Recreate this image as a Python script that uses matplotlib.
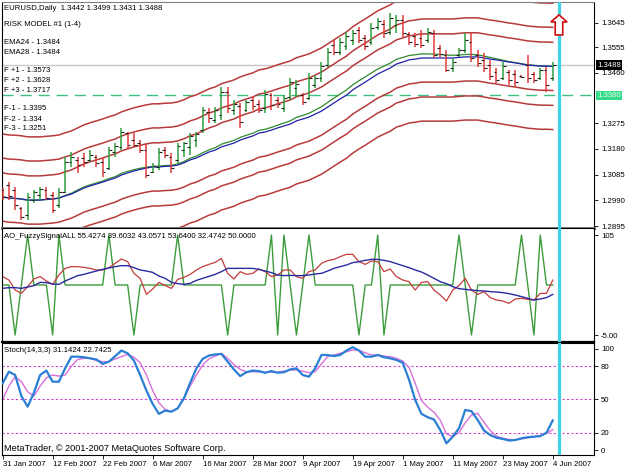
import matplotlib.pyplot as plt
from matplotlib.patches import FancyArrow
import numpy as np

plt.rcParams['font.family'] = ['Liberation Sans', 'DejaVu Sans']

# ---- data ----
date_labels = ["31 Jan 2007", "12 Feb 2007", "22 Feb 2007", "6 Mar 2007", "16 Mar 2007",
               "28 Mar 2007", "9 Apr 2007", "19 Apr 2007", "1 May 2007", "11 May 2007",
               "23 May 2007", "4 Jun 2007"]

opens = [1.3028, 1.3046, 1.3028, 1.2961, 1.2936, 1.2991, 1.3009, 1.3028, 1.3009, 1.2973,
         1.3021, 1.3131, 1.3139, 1.3146, 1.3139, 1.3150, 1.3131, 1.3109, 1.3168, 1.3187,
         1.3238, 1.3212, 1.3201, 1.3175, 1.3094, 1.3113, 1.3175, 1.3150, 1.3139, 1.3175,
         1.3187, 1.3212, 1.3249, 1.3316, 1.3286, 1.3305, 1.3390, 1.3323, 1.3338, 1.3323,
         1.3360, 1.3345, 1.3330, 1.3378, 1.3360, 1.3330, 1.3371, 1.3404, 1.3378, 1.3367,
         1.3415, 1.3441, 1.3489, 1.3563, 1.3537, 1.3559, 1.3581, 1.3618, 1.3589, 1.3574,
         1.3629, 1.3640, 1.3611, 1.3637, 1.3655, 1.3604, 1.3596, 1.3589, 1.3581, 1.3607,
         1.3552, 1.3526, 1.3478, 1.3526, 1.3544, 1.3574, 1.3526, 1.3508, 1.3489, 1.3463,
         1.3441, 1.3463, 1.3456, 1.3449, 1.3489, 1.3456, 1.3441, 1.3471, 1.3442]
highs = [1.3035, 1.3057, 1.3039, 1.2965, 1.3017, 1.3028, 1.3039, 1.3039, 1.3021, 1.3035,
         1.3150, 1.3168, 1.3150, 1.3164, 1.3175, 1.3157, 1.3146, 1.3187, 1.3201, 1.3257,
         1.3242, 1.3238, 1.3212, 1.3201, 1.3128, 1.3183, 1.3187, 1.3164, 1.3201, 1.3205,
         1.3238, 1.3242, 1.3334, 1.3330, 1.3334, 1.3408, 1.3408, 1.3360, 1.3349, 1.3360,
         1.3371, 1.3360, 1.3397, 1.3386, 1.3371, 1.3378, 1.3441, 1.3434, 1.3386, 1.3460,
         1.3452, 1.3500, 1.3552, 1.3581, 1.3589, 1.3611, 1.3618, 1.3629, 1.3600, 1.3644,
         1.3663, 1.3655, 1.3681, 1.3674, 1.3674, 1.3611, 1.3607, 1.3618, 1.3626, 1.3618,
         1.3563, 1.3544, 1.3515, 1.3552, 1.3607, 1.3607, 1.3544, 1.3533, 1.3508, 1.3478,
         1.3500, 1.3471, 1.3471, 1.3452, 1.3526, 1.3463, 1.3478, 1.3482, 1.3499]
lows = [1.2991, 1.2991, 1.2954, 1.2917, 1.2917, 1.2980, 1.2991, 1.2991, 1.2943, 1.2961,
        1.3017, 1.3113, 1.3091, 1.3113, 1.3131, 1.3113, 1.3076, 1.3102, 1.3150, 1.3175,
        1.3183, 1.3187, 1.3164, 1.3072, 1.3091, 1.3102, 1.3146, 1.3091, 1.3128, 1.3150,
        1.3157, 1.3187, 1.3238, 1.3275, 1.3275, 1.3286, 1.3312, 1.3305, 1.3257, 1.3316,
        1.3323, 1.3312, 1.3312, 1.3323, 1.3330, 1.3316, 1.3360, 1.3371, 1.3342, 1.3360,
        1.3404, 1.3426, 1.3482, 1.3526, 1.3526, 1.3544, 1.3563, 1.3570, 1.3544, 1.3563,
        1.3618, 1.3589, 1.3600, 1.3607, 1.3592, 1.3563, 1.3556, 1.3552, 1.3570, 1.3515,
        1.3519, 1.3463, 1.3463, 1.3519, 1.3533, 1.3500, 1.3482, 1.3463, 1.3434, 1.3423,
        1.3434, 1.3415, 1.3408, 1.3441, 1.3423, 1.3423, 1.3434, 1.3390, 1.3431]
closes = [1.3002, 1.3006, 1.2973, 1.2928, 1.3002, 1.3021, 1.3032, 1.2998, 1.2954, 1.3021,
          1.3131, 1.3150, 1.3120, 1.3131, 1.3157, 1.3128, 1.3094, 1.3175, 1.3190, 1.3242,
          1.3194, 1.3194, 1.3175, 1.3083, 1.3116, 1.3168, 1.3157, 1.3109, 1.3190, 1.3201,
          1.3227, 1.3235, 1.3323, 1.3294, 1.3323, 1.3390, 1.3330, 1.3345, 1.3279, 1.3353,
          1.3338, 1.3323, 1.3382, 1.3342, 1.3345, 1.3367, 1.3426, 1.3419, 1.3353, 1.3441,
          1.3441, 1.3485, 1.3537, 1.3537, 1.3574, 1.3596, 1.3607, 1.3581, 1.3559, 1.3626,
          1.3652, 1.3607, 1.3663, 1.3655, 1.3607, 1.3574, 1.3567, 1.3563, 1.3611, 1.3526,
          1.3530, 1.3471, 1.3500, 1.3544, 1.3581, 1.3515, 1.3497, 1.3478, 1.3449, 1.3434,
          1.3485, 1.3434, 1.3426, 1.3445, 1.3441, 1.3434, 1.3471, 1.3415, 1.3488]

ema24 = [1.3003, 1.2999, 1.2997, 1.2994, 1.2990, 1.2990, 1.2991, 1.2993, 1.2994, 1.2998,
         1.3008, 1.3016, 1.3028, 1.3039, 1.3047, 1.3054, 1.3061, 1.3070, 1.3077, 1.3089,
         1.3097, 1.3103, 1.3108, 1.3112, 1.3115, 1.3116, 1.3118, 1.3119, 1.3124, 1.3133,
         1.3145, 1.3153, 1.3165, 1.3176, 1.3184, 1.3197, 1.3204, 1.3211, 1.3222, 1.3230,
         1.3237, 1.3248, 1.3252, 1.3259, 1.3267, 1.3275, 1.3283, 1.3296, 1.3303, 1.3311,
         1.3323, 1.3335, 1.3351, 1.3367, 1.3382, 1.3397, 1.3416, 1.3431, 1.3445, 1.3460,
         1.3474, 1.3485, 1.3496, 1.3510, 1.3517, 1.3524, 1.3527, 1.3530, 1.3530, 1.3529,
         1.3528, 1.3526, 1.3525, 1.3526, 1.3528, 1.3528, 1.3527, 1.3522, 1.3517, 1.3512,
         1.3507, 1.3502, 1.3498, 1.3494, 1.3490, 1.3488, 1.3486, 1.3485, 1.3484]
ema28 = [1.3002, 1.2998, 1.2997, 1.2995, 1.2991, 1.2991, 1.2991, 1.2993, 1.2995, 1.2998,
         1.3006, 1.3013, 1.3024, 1.3035, 1.3043, 1.3050, 1.3057, 1.3065, 1.3072, 1.3083,
         1.3091, 1.3098, 1.3104, 1.3109, 1.3113, 1.3113, 1.3115, 1.3116, 1.3120, 1.3128,
         1.3139, 1.3146, 1.3157, 1.3168, 1.3175, 1.3187, 1.3194, 1.3201, 1.3212, 1.3220,
         1.3227, 1.3238, 1.3242, 1.3249, 1.3257, 1.3264, 1.3271, 1.3283, 1.3290, 1.3297,
         1.3308, 1.3319, 1.3334, 1.3349, 1.3364, 1.3378, 1.3397, 1.3412, 1.3426, 1.3441,
         1.3456, 1.3467, 1.3478, 1.3493, 1.3500, 1.3508, 1.3511, 1.3515, 1.3515, 1.3515,
         1.3515, 1.3515, 1.3515, 1.3517, 1.3519, 1.3519, 1.3519, 1.3515, 1.3511, 1.3508,
         1.3504, 1.3500, 1.3497, 1.3493, 1.3489, 1.3487, 1.3485, 1.3485, 1.3484]
band_offsets = [0.0089, 0.0144, 0.0233]   # F1, F2, F3 distance from EMA28

ao_signal = [50, 50, -5, 50, 105, 50, 50, 50, -5, 105,
             50, 50, 50, 50, 50, 50, 50, 105, 50, 50,
             50, -5, 50, 50, 50, 50, 50, 50, 105, 50,
             50, 50, 50, 50, 50, 50, -5, 50, 50, 50,
             50, 50, 50, 105, -5, 105, 50, -5, 50, 105,
             50, 50, 50, 50, 50, 50, 50, -5, 50, 50,
             105, -5, 50, 50, 50, 50, 50, 50, 50, 50,
             50, 50, 50, 105, 50, -5, 50, 50, 50, 50,
             50, 50, 50, 105, 50, -5, 105, 50, 50]
ao_red = [59.2, 55.5, 44.5, 40.8, 48.2, 56.6, 59.2, 54.4, 50.7, 61.0,
          68.3, 70.2, 70.2, 69.4, 68.3, 66.5, 66.5, 69.1, 73.8, 78.6,
          75.7, 62.8, 57.3, 39.7, 45.6, 52.9, 49.3, 46.3, 56.2, 58.4,
          61.7, 66.5, 70.2, 72.7, 74.9, 79.3, 62.8, 56.6, 64.7, 61.7,
          62.8, 67.6, 64.7, 59.2, 61.0, 66.5, 66.5, 59.2, 57.3, 64.7,
          66.5, 73.8, 76.8, 78.2, 81.2, 83.7, 83.7, 75.7, 72.7, 76.4,
          75.7, 64.7, 67.6, 59.2, 55.5, 53.7, 44.5, 52.9, 53.7, 44.5,
          39.0, 32.4, 44.5, 49.3, 57.3, 44.5, 39.7, 42.7, 36.1, 33.5,
          32.4, 29.8, 34.6, 35.3, 34.2, 33.5, 40.8, 40.8, 55.4274]
ao_blue = [46.3, 47.1, 47.1, 46.3, 47.8, 49.3, 52.9, 52.6, 51.1, 50.7,
           54.4, 57.3, 60.3, 61.7, 63.6, 65.4, 67.2, 68.7, 70.2, 71.3,
           71.3, 69.1, 66.5, 65.4, 63.9, 59.9, 57.3, 52.9, 51.5, 50.7,
           51.8, 55.1, 57.3, 59.5, 61.7, 64.7, 68.3, 68.3, 68.3, 68.3,
           68.3, 67.2, 65.4, 63.6, 61.0, 60.3, 60.6, 60.3, 60.3, 61.0,
           62.1, 62.8, 65.4, 68.3, 70.2, 72.0, 74.6, 75.7, 77.1, 78.2,
           78.2, 77.1, 75.7, 73.5, 71.3, 69.1, 66.5, 64.3, 61.0, 57.3,
           53.7, 51.5, 48.2, 46.0, 45.2, 44.5, 43.8, 43.4, 42.7, 42.3,
           41.6, 40.5, 39.0, 37.2, 35.3, 33.5, 34.6, 36.1, 39.6032]

stoch_main = [64.5, 75, 72, 53, 43.5, 56, 72, 76, 66, 66,
              78, 88.5, 88.5, 88, 87, 86, 82, 84, 89, 94,
              91.5, 85, 72, 58, 46, 37, 40, 39, 42, 51,
              65, 78, 86.5, 89.5, 90.5, 91, 84, 77, 71, 74.5,
              76, 75.5, 74, 75.5, 74, 74.5, 77, 78, 72, 70.5,
              78, 90, 90, 89, 90, 94, 97, 94, 88.5, 88.5,
              90, 88, 87, 85.5, 83, 68, 49.5, 37, 34, 32,
              22.5, 10.5, 16.5, 24, 40.5, 39.5, 31.5, 22, 18, 15.5,
              14.5, 13, 13.5, 15, 16, 16.5, 17, 20, 31.1424]
stoch_signal = [50, 62, 70.5, 66, 57, 53, 62, 69.5, 72, 71,
                72, 80, 86, 87, 87, 85, 84, 84, 86.5, 88.5,
                90.5, 88, 83, 72, 58, 47, 41, 39, 42, 51,
                62, 72, 81, 86.5, 89, 91.5, 87, 81.5, 77, 75,
                75, 74.8, 74.5, 74.5, 74.5, 75.5, 76.5, 76.5, 75.5, 74,
                75, 82, 88.5, 90, 91.5, 93, 94.5, 94.2, 92, 90,
                90, 89, 88.5, 87, 84.5, 79, 64.5, 49, 43, 38.5,
                31.5, 19, 16.5, 20, 29, 36, 37.5, 29.5, 22, 17,
                15, 14, 13.5, 14.5, 15.5, 16.5, 17.5, 19.5, 22.7425]
stoch_levels = [20, 50, 80]

price_ticks = [1.2895, 1.2990, 1.3085, 1.3180, 1.3275, 1.3460, 1.3555, 1.3645]
bid = 1.3488
hline_level = 1.3380
vline_bar = 89

# ---- layout ----
W, H = 625, 469
fig = plt.figure(figsize=(W / 100, H / 100), dpi=100, facecolor='white')


def panel(top, bottom):
    return fig.add_axes([2 / W, 1 - bottom / H, 592 / W, (bottom - top) / H])


ax1 = panel(2, 228)
ax2 = panel(228, 342)
ax3 = panel(343, 455)

idx = np.arange(len(closes))
xlim = (-0.1, 94.6)
fs = 5.6

for ax in (ax1, ax2, ax3):
    ax.set_xlim(*xlim)
    ax.yaxis.tick_right()
    ax.tick_params(axis='y', direction='out', length=3, width=0.6, labelsize=fs, pad=2)
    for s in ax.spines.values():
        s.set_linewidth(0.8)
    ax.axvline(vline_bar, color='#3fd3e3', lw=2.3, zorder=4)

# price panel
ax1.set_ylim(1.28877, 1.37216)
ax1.set_yticks(price_ticks)
ax1.set_yticklabels([f"{v:.4f}" for v in price_ticks])
ax1.set_xticks([])
ax1.spines['bottom'].set_color('#808080')
ax1.spines['bottom'].set_linewidth(2.2)
ax1.spines['top'].set_color('#808080')

ax1.axhline(bid, color='#c8c8c8', lw=1, zorder=1)
ax1.axhline(hline_level, color='#3cbf80', lw=1, dashes=(8, 5), zorder=1)

ema28_a = np.array(ema28)
for off in band_offsets:
    ax1.plot(idx, ema28_a + off, color='#b83a3a', lw=1.1, zorder=2)
    ax1.plot(idx, ema28_a - off, color='#b83a3a', lw=1.1, zorder=2)
ax1.plot(idx, ema24, color='#2e8b2e', lw=0.9, zorder=2)
ax1.plot(idx, ema28, color='#2020a8', lw=0.9, zorder=2)

up = np.array(closes) >= np.array(opens)
bar_colors = np.where(up, '#2f9f3f', '#e03c3c')
ax1.vlines(idx, lows, highs, colors=bar_colors, lw=1.1, zorder=3)
ax1.hlines(opens, idx - 0.45, idx, colors='#202020', lw=0.8, zorder=3)
ax1.hlines(closes, idx, idx + 0.45, colors='#202020', lw=0.8, zorder=3)

ax1.add_patch(FancyArrow(vline_bar, 1.3600, 0, 0.0074, width=1.2, head_width=2.6,
                         head_length=0.0026, length_includes_head=True,
                         fc='white', ec='#cc1010', lw=1.2, zorder=5))

# AO fuzzy panel
ax2.set_ylim(-12.7, 112.7)
ax2.set_yticks([105, -5])
ax2.set_yticklabels(['105', '-5.00'])
ax2.set_xticks([])
ax2.spines['bottom'].set_linewidth(1.6)
ax2.plot(idx, ao_signal, color='#3c9c3c', lw=1.0, zorder=2)
ax2.plot(idx, ao_red, color='#c43c3c', lw=0.9, zorder=2)
ax2.plot(idx, ao_blue, color='#2a2aa0', lw=1.0, zorder=2)

# stochastic panel
ax3.set_ylim(0, 100.8)
ax3.set_yticks([95.5, 80, 50, 20, 4.5])
ax3.set_yticklabels(['100', '80', '50', '20', '0'])
for lv in stoch_levels:
    ax3.axhline(lv, color='#cc44cc', lw=0.8, dashes=(2, 2), zorder=1)
ax3.plot(idx, stoch_signal, color='#d870d8', lw=1.0, zorder=2)
ax3.plot(idx, stoch_main, color='#2a7fd4', lw=1.6, zorder=3)
ax3.set_xticks(np.arange(0, len(closes), 8))
ax3.set_xticklabels(date_labels, ha='left', fontsize=fs)
ax3.tick_params(axis='x', direction='out', length=3, width=0.6, pad=1)


# ---- texts ----
def ftext(x, y, s, **kw):
    kw.setdefault('fontsize', fs)
    fig.text(x / W, 1 - y / H, s, va='center', ha='left', **kw)


ftext(4, 9, "EURUSD,Daily  1.3442 1.3499 1.3431 1.3488")
ftext(4, 25, "RISK MODEL #1 (1-4)")
ftext(4, 43, "EMA24 - 1.3484")
ftext(4, 53, "EMA28 - 1.3484")
ftext(4, 71, "F +1 - 1.3573")
ftext(4, 81, "F +2 - 1.3628")
ftext(4, 90, "F +3 - 1.3717")
ftext(4, 109, "F-1 - 1.3395")
ftext(4, 119, "F-2 - 1.334")
ftext(4, 128, "F-3 - 1.3251")
ftext(4, 237, "AO_FuzzySignalALL 55.4274 39.6032 43.0571 53.6400 32.4742 50.0000")
ftext(4, 350, "Stoch(14,3,3) 31.1424 22.7425")
ftext(4, 448, "MetaTrader, © 2001-2007 MetaQuotes Software Corp.", fontsize=6.6)
ftext(597, 65, "1.3488", color='white',
      bbox=dict(boxstyle='square,pad=0.15', fc='black', ec='none'))
ftext(597, 95.5, "1.3380", color='#eafff2',
      bbox=dict(boxstyle='square,pad=0.15', fc='#33dd88', ec='none'))

fig.savefig('out.png', dpi=100, facecolor='white')
